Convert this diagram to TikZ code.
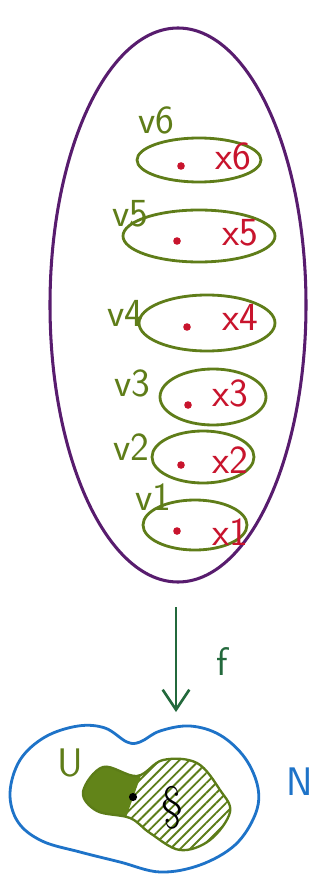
\documentclass[tikz,border=0pt]{standalone}
\usepackage{amsmath}
\usepackage{tikz}
\usetikzlibrary{arrows.meta, shapes.geometric, patterns.meta}

\definecolor{setpurple}{RGB}{88,28,110}
\definecolor{fibgreen}{RGB}{95,125,25}
\definecolor{ptred}{RGB}{200,20,45}
\definecolor{mapgreen}{RGB}{35,105,60}
\definecolor{nbhblue}{RGB}{30,115,200}
\definecolor{blobgreen}{RGB}{115,155,30}

\begin{document}
\begin{tikzpicture}[
      x=0.03cm, y=-0.03cm,
      hand/.style={font=\sffamily\fontsize{34}{36}\selectfont, inner sep=0pt},
      fiber/.style={ellipse, draw=fibgreen, line width=2.4pt, inner sep=0pt},
      pt/.style={circle, fill=ptred, inner sep=0pt, minimum size=6.5pt},
      arrow/.style={-{Straight Barb[length=6mm, width=8mm, line width=2.2pt]}, draw=mapgreen, line width=2.2pt}
    ]
    \useasboundingbox (0,0) rectangle (329,880);

    % total space
    \node[ellipse, draw=setpurple, line width=2.6pt, inner sep=0pt,
          minimum width=256*0.03cm, minimum height=554*0.03cm] (M) at (178,305) {};

    % fibres with their points
    \foreach \i/\cx/\cy/\rx/\ry/\px/\py/\lx/\ly/\vx/\vy in {
        6/199/160/62/22/181/166/233/156/156/120,
        5/199/236/76/26/177/241/240/233/130/214,
        4/207/323/68/28/187/327/240/317/125/313,
        3/213/397/53/28/188/405/230/393/132/383,
        2/203/457/51/26/181/465/230/460/131/447,
        1/195/525/52/25/177/531/230/532/153/497}
    {
      \node[fiber, minimum width=\rx*0.06cm, minimum height=\ry*0.06cm] (v\i) at (\cx,\cy) {};
      \node[pt] (p\i) at (\px,\py) {};
      \node[hand, text=ptred] (x\i) at (\lx,\ly) {x\i};
      \node[hand, text=fibgreen] (l\i) at (\vx,\vy) {v\i};
    }

    % the map
    \coordinate (fa) at (176,607);
    \coordinate (fb) at (176,712);
    \draw[arrow] (fa) -- (fb);
    \node[hand, text=mapgreen] (f) at (222,662) {f};

    % neighbourhood N
    \draw[nbhblue, line width=2.4pt] plot[smooth cycle, tension=0.6] coordinates {
        (127,742) (105,728) (78,726) (45,737) (20,760) (10,793) (18,822) (42,841)
        (80,852) (120,862) (160,872) (200,865) (235,845) (255,815) (258,788)
        (245,758) (220,735) (190,726) (160,731) (140,742)};
    \node[hand, text=nbhblue] (N) at (300,782) {N};

    % U, partly solid, partly hatched
    \path[fill=blobgreen!20, pattern={Lines[angle=45, distance=6pt, line width=1.6pt]}, pattern color=blobgreen!80!black]
        plot[smooth cycle, tension=0.6] coordinates {
        (83,792) (103,767) (137,776) (163,760) (197,763) (220,790) (230,812)
        (210,840) (180,850) (150,833) (130,818) (97,811)};
    \begin{scope}
      \clip (60,750) -- (150,750) -- (118,840) -- (60,840) -- cycle;
      \fill[blobgreen!85!black] plot[smooth cycle, tension=0.6] coordinates {
        (83,792) (103,767) (137,776) (163,760) (197,763) (220,790) (230,812)
        (210,840) (180,850) (150,833) (130,818) (97,811)};
    \end{scope}
    \draw[blobgreen!80!black, line width=2pt] plot[smooth cycle, tension=0.6] coordinates {
        (83,792) (103,767) (137,776) (163,760) (197,763) (220,790) (230,812)
        (210,840) (180,850) (150,833) (130,818) (97,811)};
    \node[hand, text=fibgreen] (U) at (70,763) {U};
    \node[circle, fill=black, inner sep=0pt, minimum size=7pt] (y) at (133,797) {};
    \node[font=\fontsize{40}{42}\selectfont, inner sep=0pt] (S) at (172,808) {\S};
  \end{tikzpicture}
\end{document}
